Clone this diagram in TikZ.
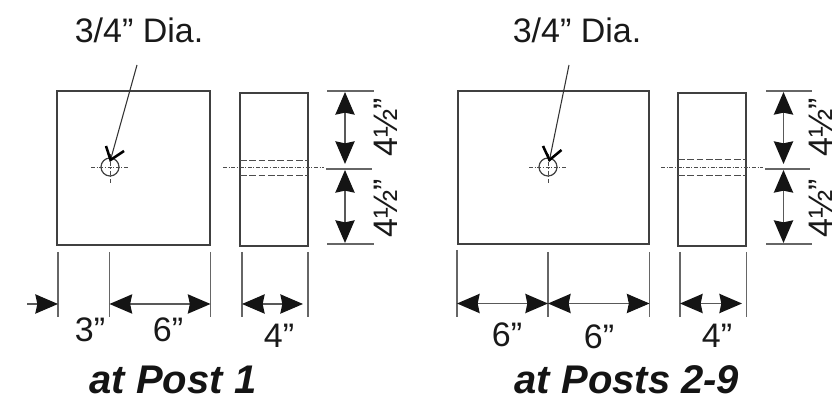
\documentclass[tikz,border=0pt]{standalone}
\usepackage{fontspec}
\setmainfont{Liberation Sans}
\usetikzlibrary{arrows.meta, positioning}
\tikzset{>={Stealth[length=17pt,width=14.5pt,inset=1.5pt,color=black!92]}}
\tikzset{
    outline/.style={draw=black!75, line width=.9pt},
    extline/.style={draw=black!60, line width=.8pt},
    dimline/.style={draw=black!65, line width=1pt},
    hidden/.style={draw=black!70, line width=.6pt, dashed, dash pattern=on 5pt off 2pt},
    centre/.style={draw=black!70, line width=.5pt, dash pattern=on 3pt off 1.2pt on .8pt off 1.2pt},
    dimlabel/.style={font=\fontsize{25.5pt}{27pt}\selectfont, text=black!90, inner sep=0pt},
    callout/.style={font=\fontsize{25.5pt}{27pt}\selectfont, text=black!90, inner sep=0pt},
    caption/.style={font=\fontsize{30pt}{32pt}\selectfont\bfseries\itshape, text=black!92, inner sep=0pt}
}
\begin{document}
\begin{tikzpicture}[x=.75pt, y=-.75pt]
    \useasboundingbox (0,0) rectangle (840,402);
    % left plate and block
    \draw[outline](57,91) rectangle (210,245);
    \draw[outline](240,93) rectangle (308,246);
    \draw[outline](110,167) circle (9);
    \draw[centre](91,167)--(128,167);
    \draw[centre](110,154)--(110,183);
    \draw[hidden](240,160)--(308,160);
    \draw[hidden](240,175.5)--(308,175.5);
    \draw[centre](223,167.5)--(324,167.5);
    % right plate and block
    \draw[outline](458,91) rectangle (649,244);
    \draw[outline](678,93) rectangle (746,246);
    \draw[outline](548,167) circle (9);
    \draw[centre](529,167)--(566,167);
    \draw[centre](548,154)--(548,183);
    \draw[hidden](678,159.5)--(746,159.5);
    \draw[hidden](678,175.5)--(746,175.5);
    \draw[centre](661,167.5)--(763,167.5);
    % extension lines
    \foreach \x/\ya in {58/252,109.5/252,210.5/252,242/252,308/252,457/250,548/252,649.5/252,680/252,746.5/252}
    {
        \draw[extline](\x,\ya)--(\x,317);
    }
    \foreach \xa/\xb in {327/374,766/812}
    {
        \draw[extline](\xa,91)--(\xb,91);
        \draw[extline](\xa-1,169)--(\xb-2,169);
        \draw[extline](\xa,244)--(\xb,244);
    }
    % dimension arrows
    \draw[->, dimline](27,304)--(58,304);
    \draw[<->, dimline](109.5,304)--(210.5,304);
    \draw[<->, dimline](242,304)--(303,304);
    \draw[<->, dimline](457,303.5)--(548,303.5);
    \draw[<->, dimline](548,303.5)--(649.5,303.5);
    \draw[<->, dimline](680,303.5)--(742,303.5);
    \foreach \x in {345,783.5}
    {
        \draw[<->, dimline](\x,92)--(\x,164);
        \draw[<->, dimline](\x,170)--(\x,243);
    }
    % labels
    \node[callout] (diaA) at (139,30){3/4” Dia.};
    \node[callout] (diaB) at (577,30){3/4” Dia.};
    \node[dimlabel] (dimC) at (90,330){3”};
    \node[dimlabel] (dimD) at (168,330){6”};
    \node[dimlabel] (dimE) at (279,336){4”};
    \node[dimlabel] (dimF) at (507,335){6”};
    \node[dimlabel] (dimG) at (599,337){6”};
    \node[dimlabel] (dimH) at (717,336){4”};
    \foreach \x in {386,821}
    {
        \node[dimlabel, rotate=90] at (\x,127){4½”};
        \node[dimlabel, rotate=90] at (\x,208){4½”};
    }
    \node[caption] (postA) at (173,380){at Post 1};
    \node[caption] (postB) at (627,380){at Posts 2-9};
    % leaders
    \coordinate (tipA) at (110.5,160);
    \coordinate (tipB) at (549.5,160);
    \draw[black!80, line width=.8pt](137,65)--(tipA);
    \draw[black!80, line width=.8pt](569,65)--(tipB);
    \draw[black, line width=1.9pt](106,146)--(tipA)--(124,151);
    \draw[black, line width=1.9pt](543,146)--(tipB)--(561.5,150);
\end{tikzpicture}
\end{document}
